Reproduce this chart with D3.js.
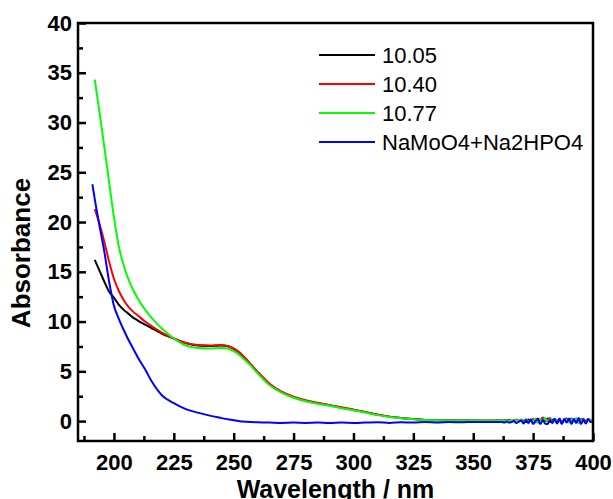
<!DOCTYPE html>
<html lang="en">

<head>
	<title>UV-Vis absorbance spectra</title>
	<meta charset="utf-8">
	<script src="https://d3js.org/d3.v7.min.js"></script>
	<style>
		body { margin: 0; background: #fff; }
		svg { display: block; font-family: "Liberation Sans", Arial, sans-serif; }
	</style>
</head>

<body>
	<div id="container1"></div>
	<script>
		// Data
		const wavelength = [
			191, 192, 194, 196, 198, 200, 202, 204, 206, 208, 210, 213, 216, 220, 225, 230, 235, 240, 245, 248,
			251, 254, 257, 260, 265, 270, 275, 280, 285, 290, 295, 300, 305, 310, 315, 320, 325, 330, 335, 340,
			345, 350, 355, 360,
			362, 363, 364, 365, 366, 367, 368, 369, 370, 371, 372, 373, 374, 375, 376, 377, 378, 379, 380, 381,
			382, 383, 384, 385, 386, 387, 388, 389, 390, 391, 392, 393, 394, 395, 396, 397, 398, 399, 400
		];

		const ph1005 = [
			null, 16.2, 15.1, 14.0, 13.0, 12.4, 11.7, 11.2, 10.8, 10.4, 10.1, 9.7, 9.3, 8.8, 8.3, 7.85, 7.6, 7.55, 7.6, 7.5,
			7.1, 6.5, 5.7, 4.9, 3.7, 2.9, 2.4, 2.05, 1.8, 1.6, 1.35, 1.15, 0.9, 0.65, 0.45, 0.3, 0.2, 0.12, 0.08, 0.06,
			0.05, 0.05, 0.03, 0.05,
			0.05, 0.0, 0.05, 0.1, 0.0, 0.05, 0.1, -0.05, 0.1, 0.05, -0.1, 0.15, 0.0, 0.1, -0.1, 0.2, 0.1, 0.3, 0.0, 0.25,
			-0.1, 0.1, 0.2, -0.15, 0.15, -0.2, 0.1, 0.2, -0.1, 0.25, 0.0, 0.2, -0.15, 0.2, 0.1, -0.05, 0.15, 0.0, 0.1
		];

		const ph1040 = [
			null, 21.3, 19.8, 18.0, 16.0, 14.3, 13.1, 12.2, 11.5, 11.0, 10.6, 10.0, 9.5, 8.9, 8.3, 7.85, 7.65, 7.6, 7.65, 7.5,
			7.15, 6.55, 5.75, 4.95, 3.75, 2.95, 2.45, 2.1, 1.85, 1.6, 1.4, 1.15, 0.9, 0.65, 0.45, 0.3, 0.2, 0.12, 0.1, 0.08,
			0.06, 0.05, 0.05, 0.05,
			0.05, 0.1, 0.0, 0.1, 0.05, 0.0, 0.15, 0.05, 0.1, -0.05, 0.15, 0.0, 0.1, 0.2, -0.05, 0.25, 0.1, 0.35, 0.2, 0.1,
			0.3, -0.05, 0.15, 0.0, 0.2, -0.1, 0.15, 0.25, -0.05, 0.2, 0.1, 0.25, -0.1, 0.15, 0.2, 0.0, 0.2, 0.05, 0.1
		];

		const ph1077 = [
			null, 34.3, 31.0, 27.5, 24.0, 20.5, 17.6, 15.7, 14.3, 13.2, 12.3, 11.2, 10.3, 9.3, 8.3, 7.6, 7.35, 7.3, 7.35, 7.25,
			6.9, 6.3, 5.6, 4.8, 3.6, 2.85, 2.35, 2.0, 1.75, 1.55, 1.3, 1.1, 0.85, 0.6, 0.42, 0.28, 0.18, 0.1, 0.08, 0.06,
			0.05, 0.05, 0.03, 0.05,
			0.05, 0.0, 0.05, 0.0, 0.1, -0.05, 0.1, 0.0, 0.15, -0.1, 0.2, -0.15, 0.15, -0.05, 0.25, -0.2, 0.2, 0.0, 0.3, -0.1,
			0.15, -0.15, 0.25, -0.1, 0.2, -0.2, 0.15, 0.1, -0.15, 0.2, -0.05, 0.25, -0.2, 0.15, 0.0, -0.1, 0.2, 0.05, 0.1
		];

		const blank = [
			23.8, 22.3, 19.6, 17.0, 14.0, 11.6, 10.3, 9.2, 8.2, 7.3, 6.4, 5.2, 3.9, 2.6, 1.8, 1.2, 0.85, 0.55, 0.3, 0.15,
			0.05, -0.05, -0.1, -0.12, -0.15, -0.18, -0.15, -0.18, -0.15, -0.2, -0.15, -0.18, -0.15, -0.12, -0.18, -0.12, -0.15, -0.1, -0.15, -0.1,
			-0.12, -0.08, -0.1, -0.08,
			-0.1, -0.15, -0.05, -0.15, -0.1, 0.0, -0.2, -0.05, 0.05, -0.25, 0.1, -0.2, 0.15, -0.3, 0.0, 0.2, -0.3, 0.1, -0.25, -0.3,
			0.1, -0.2, 0.2, -0.25, 0.25, -0.3, 0.2, -0.15, 0.25, -0.3, 0.2, -0.2, 0.3, -0.3, 0.15, -0.25, 0.2, -0.1, 0.0
		];

		const seriesNames = ["10.05", "10.40", "10.77", "NaMoO4+Na2HPO4"];
		const seriesColors = ["#000000", "#ff0000", "#00ff00", "#0000ff"];
		const seriesValues = [ph1005, ph1040, ph1077, blank];

		const xTicks = [200, 225, 250, 275, 300, 325, 350, 375, 400];
		const xMinorTicks = [187.5, 212.5, 237.5, 262.5, 287.5, 312.5, 337.5, 362.5, 387.5];
		const yTicks = [0, 5, 10, 15, 20, 25, 30, 35, 40];
		const yMinorTicks = [2.5, 7.5, 12.5, 17.5, 22.5, 27.5, 32.5, 37.5];

		// Chart dimensions
		const width = 613;
		const height = 499;
		const margin = { top: 23, right: 20, bottom: 58, left: 78 };
		const innerWidth = width - margin.left - margin.right;
		const innerHeight = height - margin.top - margin.bottom;

		const svg = d3.select("#container1")
			.append("svg")
			.attr("width", width)
			.attr("height", height);

		const bounds = svg.append("g")
			.attr("transform", `translate(${margin.left},${margin.top})`);

		// Scales
		const x = d3.scaleLinear().domain([185, 400]).range([0, innerWidth]);
		const y = d3.scaleLinear().domain([-2, 40]).range([innerHeight, 0]);

		// Clip
		bounds.append("clipPath").attr("id", "plot-clip")
			.append("rect").attr("width", innerWidth).attr("height", innerHeight);

		// Lines
		const line = d3.line()
			.defined(d => d.a !== null)
			.curve(d3.curveMonotoneX)
			.x(d => x(d.w))
			.y(d => y(d.a));

		const lines = bounds.append("g").attr("clip-path", "url(#plot-clip)");
		seriesValues.forEach((vals, i) => {
			const pts = wavelength.map((w, j) => ({ w: w, a: vals[j] }));
			lines.append("path")
				.datum(pts)
				.attr("fill", "none")
				.attr("stroke", seriesColors[i])
				.attr("stroke-width", 2)
				.attr("stroke-linejoin", "round")
				.attr("d", line);
		});

		// Axes (ticks inward)
		const xAxis = d3.axisBottom(x).tickValues(xTicks).tickSize(-8).tickPadding(13);
		const xMinor = d3.axisBottom(x).tickValues(xMinorTicks).tickSize(-5).tickFormat("");
		const yAxis = d3.axisLeft(y).tickValues(yTicks).tickSize(-8).tickPadding(6);
		const yMinor = d3.axisLeft(y).tickValues(yMinorTicks).tickSize(-5).tickFormat("");

		const styleAxis = g => {
			g.select(".domain").remove();
			g.selectAll("line").attr("stroke", "#000").attr("stroke-width", 2.5);
			g.selectAll("text")
				.attr("fill", "#000")
				.style("font-size", "22px")
				.style("font-weight", "bold");
		};

		bounds.append("g").attr("transform", `translate(0,${innerHeight})`).call(xAxis).call(styleAxis);
		bounds.append("g").attr("transform", `translate(0,${innerHeight})`).call(xMinor).call(styleAxis);
		bounds.append("g").call(yAxis).call(styleAxis);
		bounds.append("g").call(yMinor).call(styleAxis);

		// Frame
		bounds.append("rect")
			.attr("width", innerWidth)
			.attr("height", innerHeight)
			.attr("fill", "none")
			.attr("stroke", "#000")
			.attr("stroke-width", 2.5);

		// Axis titles
		svg.append("text")
			.attr("x", margin.left + innerWidth / 2)
			.attr("y", 498)
			.attr("text-anchor", "middle")
			.style("font-size", "25px")
			.style("font-weight", "bold")
			.text("Wavelength / nm");

		svg.append("text")
			.attr("transform", "translate(30,253) rotate(-90)")
			.attr("text-anchor", "middle")
			.style("font-size", "26px")
			.style("font-weight", "bold")
			.text("Absorbance");

		// Legend
		const legend = bounds.append("g").attr("transform", "translate(241,32)");
		seriesNames.forEach((name, i) => {
			const row = legend.append("g").attr("transform", `translate(0,${i * 29})`);
			row.append("line")
				.attr("x1", 0).attr("x2", 56)
				.attr("stroke", seriesColors[i])
				.attr("stroke-width", 2);
			row.append("text")
				.attr("x", 63)
				.attr("dy", "0.35em")
				.style("font-size", "22px")
				.text(name);
		});
	</script>
</body>

</html>
